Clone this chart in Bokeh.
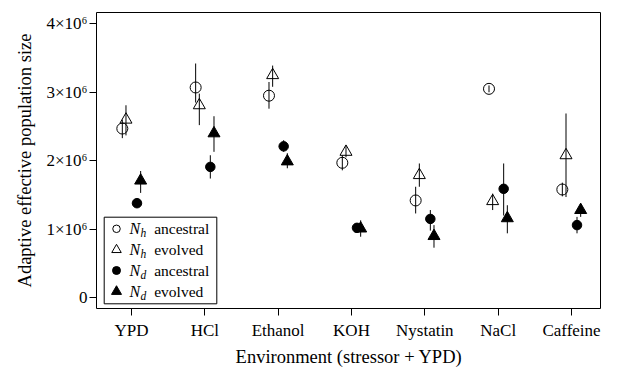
from bokeh.plotting import figure
from bokeh.models import Range1d, FixedTicker
from bokeh.embed import file_html
from bokeh.resources import INLINE
from bokeh.core.properties import value

# ---------------- data (values in units of 10^6) ----------------
categories = ["YPD", "HCl", "Ethanol", "KOH", "Nystatin", "NaCl", "Caffeine"]
cat_pos = [1, 2, 3, 4, 5, 6, 7]

y_ticks = [0, 1, 2, 3, 4]
y_tick_labels = ["0", "1×10⁶", "2×10⁶", "3×10⁶", "4×10⁶"]

nh_anc = [2.47, 3.07, 2.95, 1.97, 1.42, 3.05, 1.58]
nh_anc_lo = [2.33, 2.85, 2.76, 1.86, 1.23, 3.00, 1.48]
nh_anc_hi = [2.60, 3.42, 3.15, 2.08, 1.62, 3.10, 1.68]

nh_evo = [2.60, 2.81, 3.25, 2.13, 1.79, 1.41, 2.08]
nh_evo_lo = [2.37, 2.52, 3.08, 2.05, 1.62, 1.28, 1.47]
nh_evo_hi = [2.81, 2.98, 3.39, 2.22, 1.96, 1.52, 2.69]

nd_anc = [1.38, 1.91, 2.21, 1.02, 1.15, 1.59, 1.06]
nd_anc_lo = [1.32, 1.74, 2.13, 0.98, 0.98, 1.20, 0.94]
nd_anc_hi = [1.44, 2.08, 2.30, 1.06, 1.28, 1.96, 1.18]

nd_evo = [1.71, 2.40, 1.99, 1.01, 0.90, 1.16, 1.28]
nd_evo_lo = [1.53, 2.13, 1.89, 0.89, 0.73, 0.94, 1.18]
nd_evo_hi = [1.85, 2.65, 2.11, 1.13, 1.06, 1.35, 1.33]

legend_words = ["ancestral", "evolved", "ancestral", "evolved"]
legend_subs = ["h", "h", "d", "d"]

FONT = "Liberation Serif"

W, H = 601, 370
BL, BR, BT, BB = 96, 0, 12, 62
FW, FH = W - BL - BR, H - BT - BB
X0, X1 = 0.523, 7.409
Y0, Y1 = -0.158, 4.165

p = figure(width=W, height=H, output_backend="svg", toolbar_location=None,
           x_range=Range1d(X0, X1), y_range=Range1d(Y0, Y1),
           min_border_left=BL, min_border_right=BR, min_border_top=BT,
           min_border_bottom=BB, background_fill_color="white",
           border_fill_color="white")
p.xgrid.visible = False
p.ygrid.visible = False
p.outline_line_color = "black"
p.outline_line_width = 1
p.outline_line_alpha = 1.0

for ax in (p.xaxis[0], p.yaxis[0]):
    ax.axis_line_color = None
    ax.minor_tick_line_color = None
    ax.major_tick_line_color = "black"
    ax.major_tick_out = 7
    ax.major_tick_in = 0
    ax.major_label_text_font = FONT
    ax.major_label_text_font_size = "17px"
    ax.major_label_text_color = "black"
    ax.major_label_text_line_height = 0.9
    ax.axis_label_text_font = FONT
    ax.axis_label_text_font_size = "18.5px"
    ax.axis_label_text_font_style = "normal"
    ax.axis_label_text_color = "black"
    ax.axis_label_text_line_height = 0.9

p.xaxis.ticker = FixedTicker(ticks=cat_pos)
p.xaxis.major_label_overrides = {c: n for c, n in zip(cat_pos, categories)}
p.xaxis.major_label_standoff = 5
p.xaxis.axis_label = "Environment (stressor + YPD)"
p.xaxis.axis_label_standoff = 4

p.yaxis.ticker = FixedTicker(ticks=y_ticks)
p.yaxis.major_label_overrides = {t: s for t, s in zip(y_ticks, y_tick_labels)}
p.yaxis.major_label_standoff = 2
p.yaxis.axis_label = "Adaptive effective population size"
p.yaxis.axis_label_standoff = 8

series = [
    (nh_anc, nh_anc_lo, nh_anc_hi, -0.125, "circle", None, 11),
    (nh_evo, nh_evo_lo, nh_evo_hi, -0.075, "triangle", None, 12),
    (nd_anc, nd_anc_lo, nd_anc_hi, 0.075, "circle", "black", 9.5),
    (nd_evo, nd_evo_lo, nd_evo_hi, 0.125, "triangle", "black", 12),
]

for vals, lo, hi, off, _, _, _ in series:
    xs = [c + off for c in cat_pos]
    p.segment(x0=xs, x1=xs, y0=lo, y1=hi, line_color="black", line_width=1)

for vals, lo, hi, off, mk, fill, sz in series:
    xs = [c + off for c in cat_pos]
    p.scatter(x=xs, y=vals, marker=mk, size=sz, line_color="black",
              line_width=1, fill_color=fill if fill else "white",
              fill_alpha=1.0 if fill else 0.0)

# ---------------- legend in frame pixel coordinates ----------------
p.extra_x_ranges = {"px": Range1d(0, FW)}
p.extra_y_ranges = {"px": Range1d(FH, 0)}
kw = dict(x_range_name="px", y_range_name="px")

p.quad(left=[7.7], right=[120.3], top=[204.7], bottom=[291.3],
       fill_color="white", line_color="black", line_width=1, **kw)

row_y = [216.3, 237.3, 258.0, 279.0]
leg_markers = [("circle", None, 7.5), ("triangle", None, 9.5),
               ("circle", "black", 8), ("triangle", "black", 10)]
for (mk, fill, sz), ry in zip(leg_markers, row_y):
    p.scatter(x=[20], y=[ry], marker=mk, size=sz, line_color="black",
              line_width=1, fill_color=fill if fill else "white",
              fill_alpha=1.0 if fill else 0.0, **kw)

p.text(x=[33] * 4, y=row_y, text=["N"] * 4, text_font=value(FONT),
       text_font_style="italic", text_font_size="16px",
       text_baseline="middle", text_align="left", text_color="black", **kw)
p.text(x=[44] * 4, y=[r + 4 for r in row_y], text=legend_subs,
       text_font=value(FONT), text_font_style="italic",
       text_font_size="11.5px", text_baseline="middle", text_align="left",
       text_color="black", **kw)
p.text(x=[57.7] * 4, y=row_y, text=legend_words, text_font=value(FONT),
       text_font_style="normal", text_font_size="15.5px",
       text_baseline="middle", text_align="left", text_color="black", **kw)

open("out.html", "w").write(file_html(p, INLINE))
